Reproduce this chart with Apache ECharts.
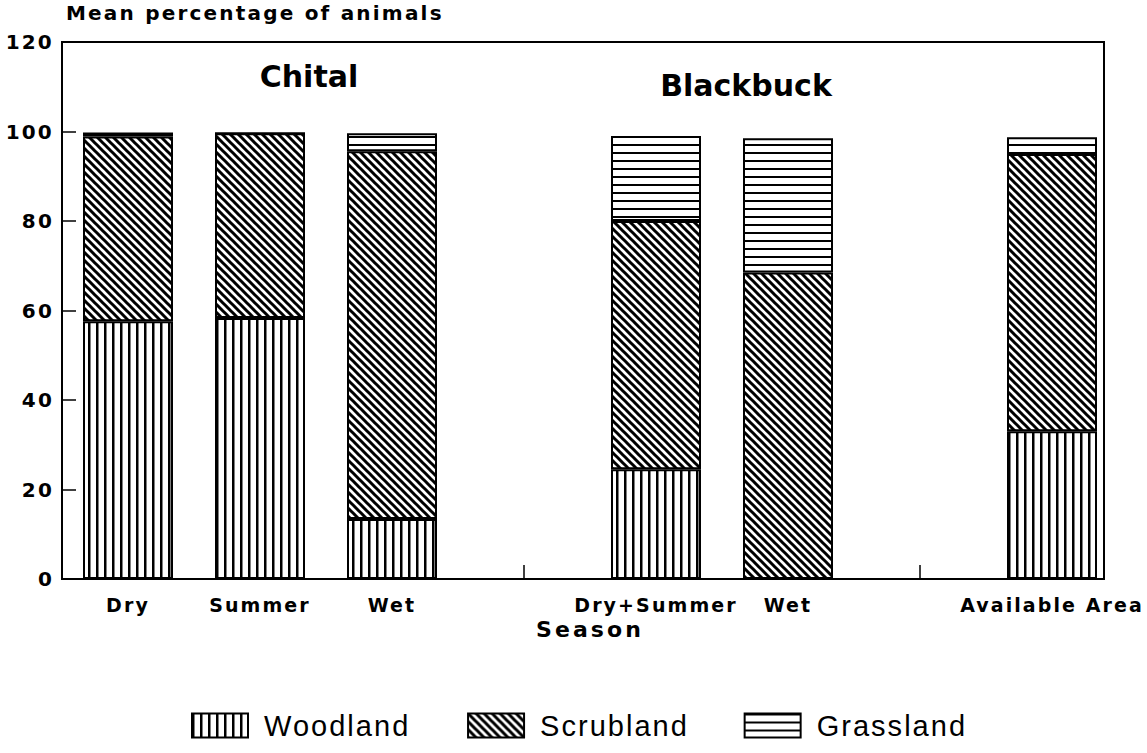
<!DOCTYPE html>
<html>
<head>
<meta charset="utf-8">
<script src="https://cdn.jsdelivr.net/npm/echarts@6/dist/echarts.min.js"></script>
<style>
html,body{margin:0;padding:0;background:#fff}
#chart{width:1147px;height:753px}
#chart svg text{letter-spacing:0.11em}
#chart svg text[style*="30px"]{letter-spacing:0}
#chart svg text[style*="29px"]{letter-spacing:0.07em}
#chart svg text[style*="22px"]{letter-spacing:0.14em}
</style>
</head>
<body>
<div id="chart"></div>
<script>
// ---- data ----
const categories = ['Dry', 'Summer', 'Wet', '', 'Dry+Summer', 'Wet', '', 'Available Area'];
const woodland  = [57.6, 58.3, 13.4, '-', 24.5, 0,    '-', 33.0];
const scrubland = [41.3, 41.3, 82.2, '-', 55.5, 68.5, '-', 62.0];
const grassland = [0.9,  0,    4.0,  '-', 19.0, 30.0, '-', 3.7];
const seriesNames = ['Woodland', 'Scrubland', 'Grassland'];
const groupTitles = ['Chital', 'Blackbuck'];
const yTitle = 'Mean percentage of animals';
const xTitle = 'Season';

function makePattern(kind) {
  const c = document.createElement('canvas');
  c.width = 8; c.height = 8;
  const g = c.getContext('2d');
  g.fillStyle = '#fff'; g.fillRect(0, 0, 8, 8);
  g.fillStyle = '#000'; g.strokeStyle = '#000';
  if (kind === 'v') {
    g.fillRect(0, 0, 2.5, 8);
  } else if (kind === 'h') {
    g.fillRect(0, 0, 8, 2);
  } else {
    g.lineWidth = 3;
    g.beginPath();
    g.moveTo(-2, -2); g.lineTo(10, 10);
    g.moveTo(-2, 6); g.lineTo(2, 10);
    g.moveTo(6, -2); g.lineTo(10, 2);
    g.stroke();
  }
  return { image: c, repeat: 'repeat', imageWidth: 8, imageHeight: 8 };
}
const patterns = [makePattern('v'), makePattern('d'), makePattern('h')];
const values = [woodland, scrubland, grassland];

const BOLD = 'DejaVu Sans';
const chart = echarts.init(document.getElementById('chart'), null, { renderer: 'svg' });
chart.setOption({
  animation: false,
  backgroundColor: '#fff',
  title: [
    { text: yTitle, left: 66, top: 3, padding: 0,
      textStyle: { fontSize: 20, fontWeight: 'bold', fontFamily: BOLD, color: '#000' } },
    { text: groupTitles[0], left: 309, top: 61, padding: 0, textAlign: 'center',
      textStyle: { fontSize: 30, fontWeight: 'bold', fontFamily: BOLD, color: '#000' } },
    { text: groupTitles[1], left: 746, top: 70, padding: 0, textAlign: 'center',
      textStyle: { fontSize: 30, fontWeight: 'bold', fontFamily: BOLD, color: '#000' } }
  ],
  legend: {
    data: seriesNames,
    left: 186,
    top: 706,
    icon: 'rect',
    itemWidth: 56,
    itemHeight: 24,
    itemGap: 73,
    selectedMode: false,
    itemStyle: { borderColor: '#000', borderWidth: 2 },
    textStyle: { fontSize: 29, fontFamily: 'Liberation Sans', color: '#000', padding: [0, 0, 0, 11] }
  },
  grid: [
    // plotting grid: 8 equal category slots
    { left: 62, right: 29, top: 42, bottom: 174, show: false,
      outerBoundsMode: 'none', containLabel: false },
    // frame of the plot
    { left: 62, right: 43, top: 42, bottom: 174, show: true,
      borderColor: '#000', borderWidth: 2,
      outerBoundsMode: 'none', containLabel: false }
  ],
  xAxis: [
    {
      gridIndex: 0,
      type: 'category',
      data: categories,
      name: xTitle,
      nameLocation: 'middle',
      nameGap: 34,
      nameTextStyle: { fontSize: 22, fontWeight: 'bold', fontFamily: BOLD, color: '#000' },
      axisLine: { show: false },
      axisTick: {
        show: true, inside: true, length: 14, alignWithLabel: true,
        interval: function (i, v) { return categories[i] === ''; },
        lineStyle: { color: '#000', width: 1.5 }
      },
      axisLabel: { interval: 0, margin: 16, fontSize: 19, fontWeight: 'bold', fontFamily: BOLD, color: '#000' },
      splitLine: { show: false }
    },
    { gridIndex: 1, type: 'value', show: false, min: 0, max: 1 }
  ],
  yAxis: [
    {
      gridIndex: 0,
      type: 'value',
      min: 0, max: 120, interval: 20,
      axisLine: { show: true, onZero: false, lineStyle: { color: '#000', width: 2 } },
      axisTick: { show: true, inside: true, length: 14, lineStyle: { color: '#000', width: 1.5 } },
      axisLabel: { margin: 8, fontSize: 20, fontWeight: 'bold', fontFamily: BOLD, color: '#000' },
      splitLine: { show: false }
    },
    { gridIndex: 1, type: 'value', show: false, min: 0, max: 1 }
  ],
  series: seriesNames.map(function (name, k) {
    return {
      name: name,
      type: 'bar',
      stack: 'total',
      xAxisIndex: 0,
      yAxisIndex: 0,
      barWidth: 90,
      data: values[k],
      itemStyle: { color: patterns[k], borderColor: '#000', borderWidth: 2 },
      emphasis: { disabled: true },
      silent: true
    };
  })
});
</script>
</body>
</html>
